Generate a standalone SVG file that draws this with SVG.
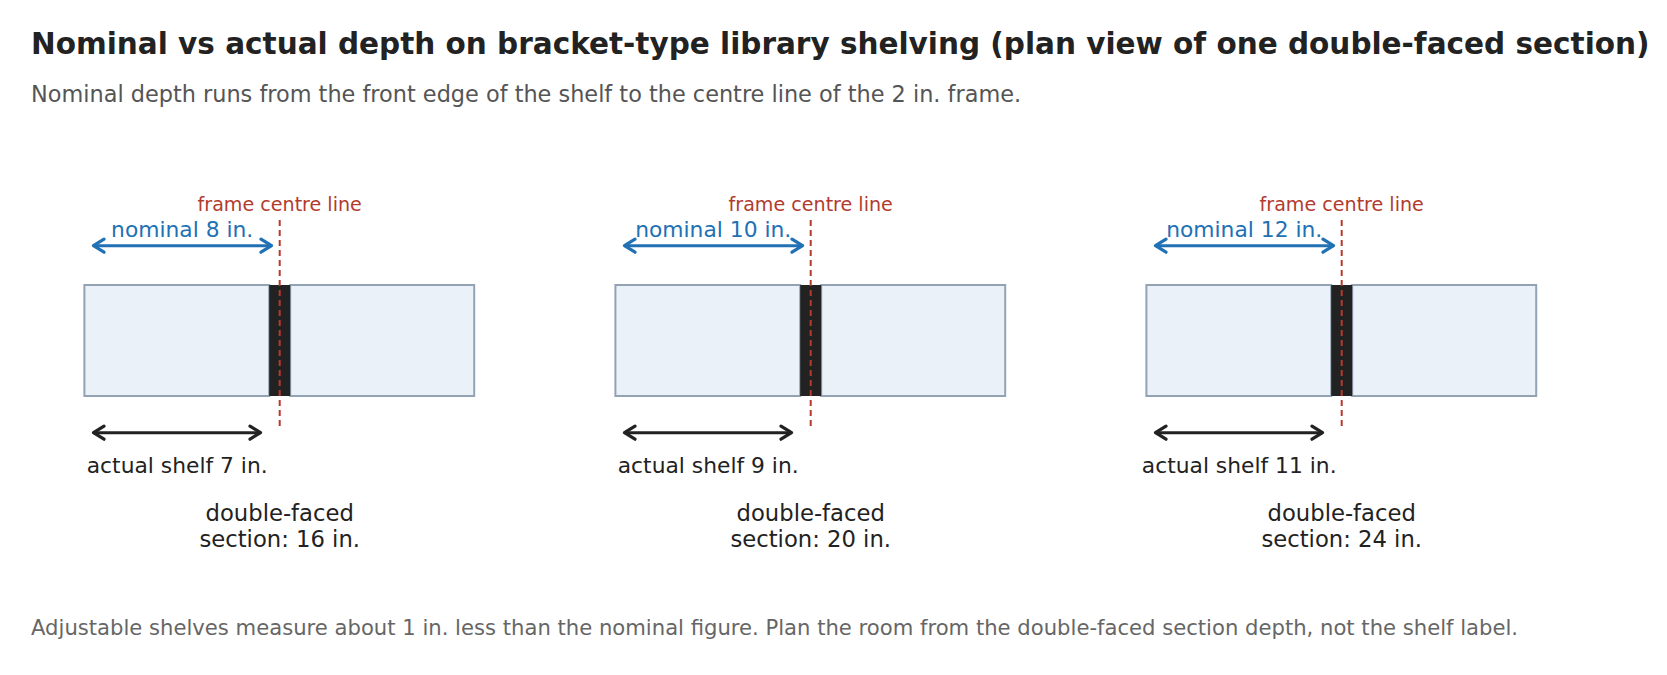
<svg xmlns="http://www.w3.org/2000/svg" width="1667" height="675" viewBox="0 0 1667 675">
<style>
text{font-family:"DejaVu Sans","Liberation Sans",sans-serif}
.title{font-size:29.5px;font-weight:bold;fill:#222}
.sub{font-size:22.4px;fill:#555}
.foot{font-size:21.15px;fill:#666}
.shelf{fill:#eaf1f9;stroke:#94a3b4;stroke-width:2}
.frame{fill:#222}
.cl{stroke:#b23b2e;stroke-width:2;stroke-dasharray:6 4;fill:none}
.cltxt{font-size:19.1px;fill:#b23b2e;text-anchor:middle}
.nom{stroke:#2171b5;stroke-width:3;fill:none}
.nomtxt{font-size:21.8px;fill:#2171b5;text-anchor:middle}
.act{stroke:#222;stroke-width:3;fill:none}
.acttxt{font-size:21.8px;fill:#222;text-anchor:middle}
.dftxt{font-size:22.7px;fill:#222;text-anchor:middle}
</style>
<defs>
<marker id="ahB" viewBox="-14 -9 18 18" markerWidth="18" markerHeight="18" refX="0" refY="0" orient="auto-start-reverse" markerUnits="userSpaceOnUse">
<path d="M-10.5,-6.5 L0,0 L-10.5,6.5" fill="none" stroke="#2171b5" stroke-width="3.2" stroke-linecap="round" stroke-linejoin="round"/>
</marker>
<marker id="ahK" viewBox="-14 -9 18 18" markerWidth="18" markerHeight="18" refX="0" refY="0" orient="auto-start-reverse" markerUnits="userSpaceOnUse">
<path d="M-10.5,-6.5 L0,0 L-10.5,6.5" fill="none" stroke="#222" stroke-width="3.2" stroke-linecap="round" stroke-linejoin="round"/>
</marker>
</defs>
<rect width="1667" height="675" fill="#fff"/>
<text class="title" x="31" y="54">Nominal vs actual depth on bracket-type library shelving (plan view of one double-faced section)</text>
<text class="sub" x="31" y="101.5">Nominal depth runs from the front edge of the shelf to the centre line of the 2 in. frame.</text>

<g id="section-8" transform="translate(279.7,0)">
<rect class="shelf" x="-195.3" y="285" width="184.8" height="111"/>
<rect class="shelf" x="10.5" y="285" width="184" height="111"/>
<rect class="frame" x="-10.5" y="285" width="21" height="111"/>
<line class="cl" x1="0" y1="220" x2="0" y2="428"/>
<text class="cltxt" x="0" y="211">frame centre line</text>
<text class="nomtxt" x="-97.5" y="236.5">nominal 8 in.</text>
<text class="acttxt" x="-102.5" y="472.5">actual shelf 7 in.</text>
<text class="dftxt" x="0" y="521">double-faced</text>
<text class="dftxt" x="0" y="546.5">section: 16 in.</text>
</g>
<g id="section-10" transform="translate(810.7,0)">
<rect class="shelf" x="-195.3" y="285" width="184.8" height="111"/>
<rect class="shelf" x="10.5" y="285" width="184" height="111"/>
<rect class="frame" x="-10.5" y="285" width="21" height="111"/>
<line class="cl" x1="0" y1="220" x2="0" y2="428"/>
<text class="cltxt" x="0" y="211">frame centre line</text>
<text class="nomtxt" x="-97.5" y="236.5">nominal 10 in.</text>
<text class="acttxt" x="-102.5" y="472.5">actual shelf 9 in.</text>
<text class="dftxt" x="0" y="521">double-faced</text>
<text class="dftxt" x="0" y="546.5">section: 20 in.</text>
</g>
<g id="section-12" transform="translate(1341.7,0)">
<rect class="shelf" x="-195.3" y="285" width="184.8" height="111"/>
<rect class="shelf" x="10.5" y="285" width="184" height="111"/>
<rect class="frame" x="-10.5" y="285" width="21" height="111"/>
<line class="cl" x1="0" y1="220" x2="0" y2="428"/>
<text class="cltxt" x="0" y="211">frame centre line</text>
<text class="nomtxt" x="-97.5" y="236.5">nominal 12 in.</text>
<text class="acttxt" x="-102.5" y="472.5">actual shelf 11 in.</text>
<text class="dftxt" x="0" y="521">double-faced</text>
<text class="dftxt" x="0" y="546.5">section: 24 in.</text>
</g>

<g id="connectors">
<line class="nom" x1="93.5" y1="245.7" x2="271.5" y2="245.7" marker-start="url(#ahB)" marker-end="url(#ahB)"/>
<line class="act" x1="93.5" y1="432.7" x2="260.5" y2="432.7" marker-start="url(#ahK)" marker-end="url(#ahK)"/>
<line class="nom" x1="624.5" y1="245.7" x2="802.5" y2="245.7" marker-start="url(#ahB)" marker-end="url(#ahB)"/>
<line class="act" x1="624.5" y1="432.7" x2="791.5" y2="432.7" marker-start="url(#ahK)" marker-end="url(#ahK)"/>
<line class="nom" x1="1155.5" y1="245.7" x2="1333.5" y2="245.7" marker-start="url(#ahB)" marker-end="url(#ahB)"/>
<line class="act" x1="1155.5" y1="432.7" x2="1322.5" y2="432.7" marker-start="url(#ahK)" marker-end="url(#ahK)"/>
</g>

<text class="foot" x="31" y="635">Adjustable shelves measure about 1 in. less than the nominal figure. Plan the room from the double-faced section depth, not the shelf label.</text>
</svg>
